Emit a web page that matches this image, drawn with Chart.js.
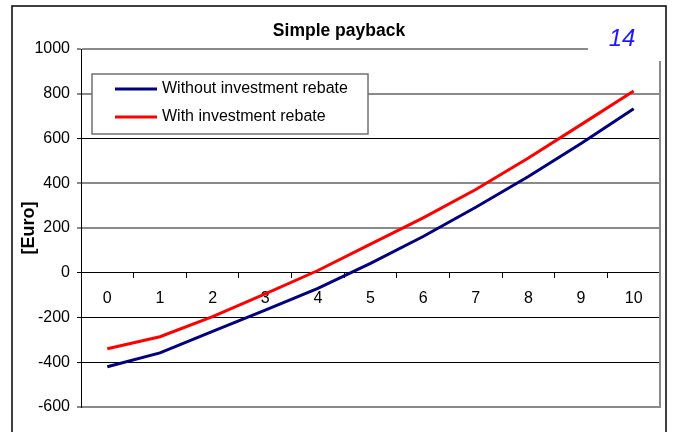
<!DOCTYPE html>
<html>
<head>
<meta charset="utf-8">
<script src="https://cdn.jsdelivr.net/npm/chart.js@4"></script>
<style>
  html, body { margin: 0; padding: 0; background: #fff; overflow: hidden; }
  canvas { display: block; }
</style>
</head>
<body>
<canvas id="paybackChart" width="673" height="432"></canvas>
<script>
// values
const years = ['0', '1', '2', '3', '4', '5', '6', '7', '8', '9', '10'];
const withoutRebate = [-420, -358, -262, -167, -70, 42, 162, 293, 430, 578, 733];
const withRebate = [-340, -286, -196, -94, 10, 128, 245, 372, 513, 662, 812];
const euroTicks = [-600, -400, -200, 0, 200, 400, 600, 800, 1000];
const chartTitle = 'Simple payback';
const pageNumber = '14';

Chart.defaults.font.family = "'Liberation Sans', Arial, sans-serif";
Chart.defaults.color = '#000';

// grid lines that show up dark in the reference (the rest look grey)
const darkLines = [600, 0, -200, -400];
const gridColor = c => darkLines.includes(c.tick && c.tick.value) ? '#000' : '#8a8a8a';
const gridWidth = c => darkLines.includes(c.tick && c.tick.value) ? 1 : 2;

const framePlugin = {
  id: 'frame',
  beforeDraw(chart) {
    const { ctx } = chart;
    ctx.save();
    ctx.fillStyle = '#fff';
    ctx.fillRect(0, 0, chart.width, chart.height);
    ctx.strokeStyle = '#000';
    ctx.lineWidth = 1.5;
    ctx.strokeRect(12, 6, 654, 460);
    ctx.restore();
  },
  beforeDatasetsDraw(chart) {
    const { ctx, chartArea } = chart;
    ctx.save();
    ctx.strokeStyle = '#8a8a8a';
    ctx.lineWidth = 2;
    ctx.beginPath();
    ctx.moveTo(chartArea.right, chartArea.top);
    ctx.lineTo(chartArea.right, chartArea.bottom + 1);
    ctx.stroke();
    ctx.restore();
  },
  afterDraw(chart) {
    const { ctx } = chart;
    ctx.save();

    // title
    ctx.fillStyle = '#000';
    ctx.font = "bold 17.5px 'Liberation Sans', Arial, sans-serif";
    ctx.textAlign = 'center';
    ctx.textBaseline = 'alphabetic';
    ctx.fillText(chartTitle, 339, 36);

    // page number box over the top right corner of the plot
    ctx.fillStyle = '#fff';
    ctx.fillRect(588, 18, 77, 43);
    ctx.fillStyle = '#1a1aff';
    ctx.font = "italic 24px 'Liberation Sans', Arial, sans-serif";
    ctx.fillText(pageNumber, 622, 46);

    // legend box
    const lx = 92, ly = 74, lw = 276, lh = 60;
    ctx.fillStyle = '#fff';
    ctx.fillRect(lx, ly, lw, lh);
    ctx.strokeStyle = '#707070';
    ctx.lineWidth = 1.5;
    ctx.strokeRect(lx, ly, lw, lh);
    ctx.font = "16px 'Liberation Sans', Arial, sans-serif";
    ctx.textAlign = 'left';
    ctx.textBaseline = 'middle';
    chart.data.datasets.forEach((ds, i) => {
      const y = 89 + i * 28;
      ctx.strokeStyle = ds.borderColor;
      ctx.lineWidth = 3;
      ctx.beginPath();
      ctx.moveTo(115, y);
      ctx.lineTo(157, y);
      ctx.stroke();
      ctx.fillStyle = '#000';
      ctx.fillText(ds.label, 162, y);
    });
    ctx.restore();
  }
};

new Chart(document.getElementById('paybackChart').getContext('2d'), {
  type: 'line',
  data: {
    labels: years,
    datasets: [
      {
        label: 'Without investment rebate',
        data: withoutRebate,
        borderColor: '#000080',
        borderWidth: 3,
        pointRadius: 0,
        tension: 0,
        fill: false
      },
      {
        label: 'With investment rebate',
        data: withRebate,
        borderColor: '#ff0000',
        borderWidth: 3,
        pointRadius: 0,
        tension: 0,
        fill: false
      }
    ]
  },
  options: {
    responsive: false,
    animation: false,
    layout: { padding: { left: 0, top: 49, right: 13, bottom: 25 } },
    plugins: {
      legend: { display: false },
      title: { display: false },
      tooltip: { enabled: false }
    },
    scales: {
      x: {
        type: 'category',
        offset: true,
        position: { y: 0 },
        grid: { offset: true, drawOnChartArea: false, drawTicks: true, tickLength: 5, color: '#000' },
        border: { color: '#000', width: 1 },
        ticks: { font: { size: 16 }, padding: 11, maxRotation: 0, autoSkip: false }
      },
      y: {
        min: euroTicks[0],
        max: euroTicks[euroTicks.length - 1],
        afterFit: s => { s.width = 81; },
        ticks: {
          stepSize: euroTicks[1] - euroTicks[0],
          font: { size: 16 },
          padding: 7,
          callback: v => String(v)
        },
        grid: { color: gridColor, lineWidth: gridWidth, tickLength: 4, drawTicks: true },
        border: { color: '#000', width: 1 },
        title: {
          display: true,
          text: '[Euro]',
          font: { size: 18, weight: 'bold' },
          padding: { top: 18, bottom: 0 }
        }
      }
    }
  },
  plugins: [framePlugin]
});
</script>
</body>
</html>
